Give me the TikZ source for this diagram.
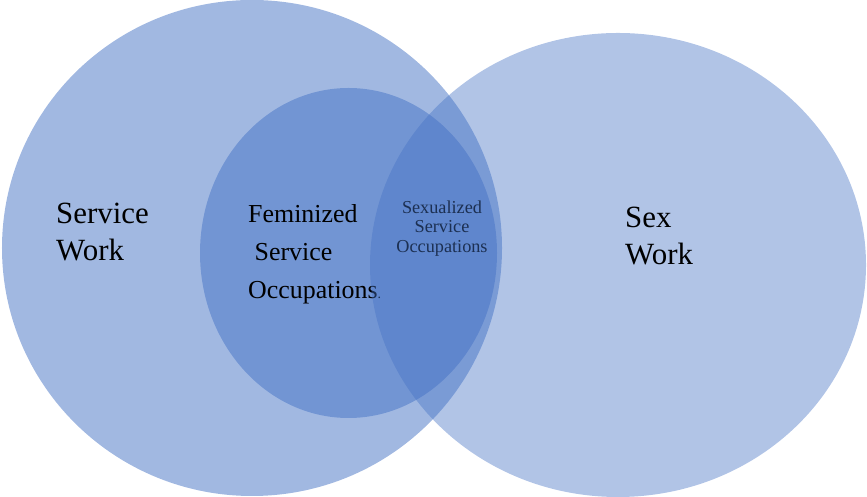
\documentclass[tikz,border=0pt]{standalone}
\usepackage{fontspec}
\setmainfont{Liberation Serif}
\usetikzlibrary{shapes.geometric}
\definecolor{venn}{RGB}{68,114,196}

\begin{document}
\begin{tikzpicture}[
  x=1bp, y=1bp,
  st/.style={ellipse, fill=venn, inner sep=0pt},
  bg/.style={font=\fontsize{31}{36.5}\selectfont, align=left, inner sep=0pt},
  md/.style={font=\fontsize{26}{38.5}\selectfont, align=left, inner sep=0pt},
  sm/.style={font=\fontsize{18.3}{19.5}\selectfont, align=center, inner sep=0pt}]
\useasboundingbox (0,0) rectangle (867,497);

% ---- service work and the feminized occupations inside it ----
\node[st, fill opacity=0.5, minimum width=500bp, minimum height=496bp] (serv) at (252,249) {};
\node[st, fill opacity=0.5, minimum width=297bp, minimum height=330bp] (fem) at (348.5,244) {};
\node[bg, anchor=north west] (servl) at (56,294) {Service\\Work};
\node[md, anchor=north west] (feml) at (248,293) {Feminized\\\ Service\\Occupations{\fontsize{14}{14}\selectfont.}};
\node[sm, anchor=north] (sexl) at (442,296.5) {Sexualized\\Service\\Occupations};

% ---- sex work, laid over the rest ----
\node[st, fill opacity=0.42, minimum width=496bp, minimum height=464bp] (sex) at (618,232) {};
\node[bg, anchor=north west] (sexwl) at (625,290) {Sex\\Work};
\end{tikzpicture}
\end{document}
